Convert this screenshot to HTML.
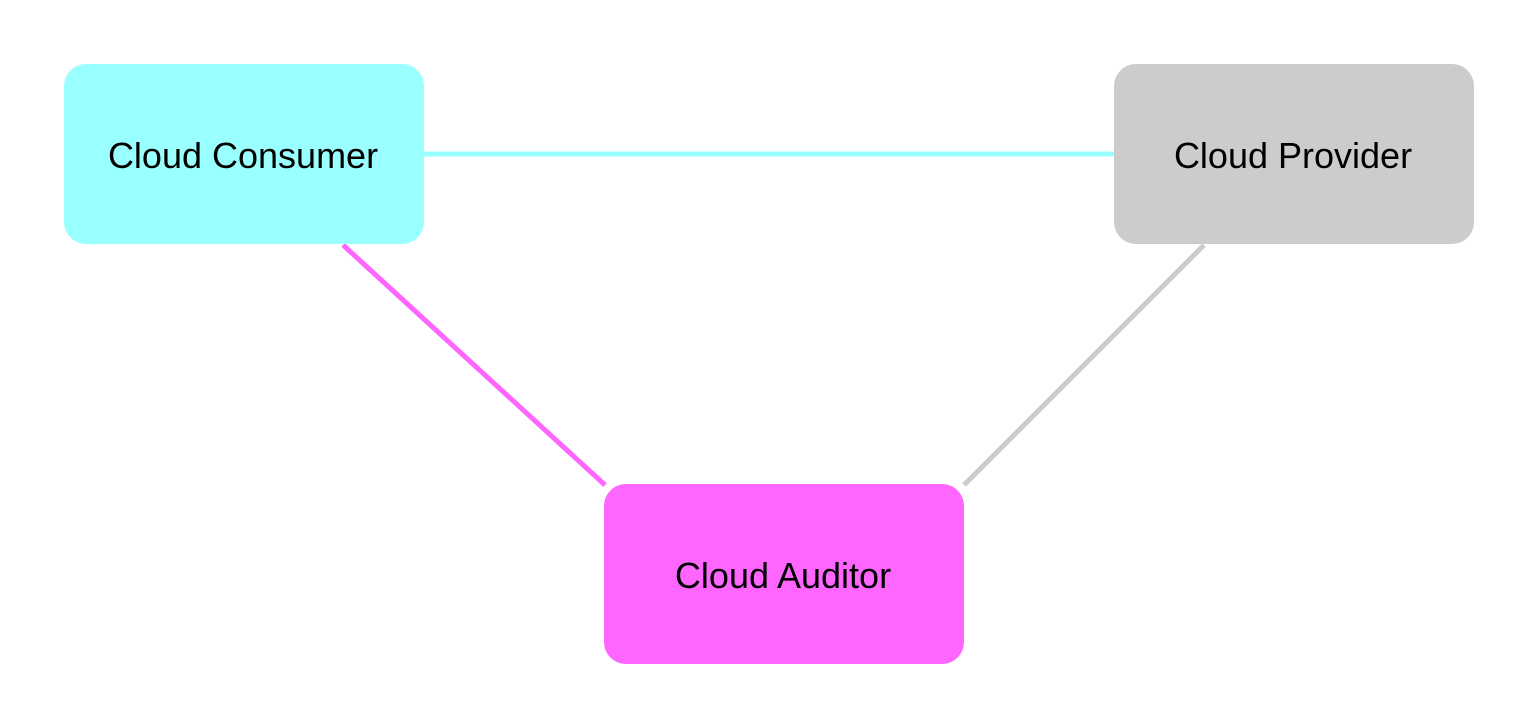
<!DOCTYPE html>
<html><head><style>html,body{margin:0;padding:0;background:#fff;width:1536px;height:726px;overflow:hidden}</style></head>
<body>
<svg width="1536" height="726" xmlns="http://www.w3.org/2000/svg">
<line x1="424" y1="154" x2="1115" y2="154" stroke="#99ffff" stroke-width="5"/>
<line x1="343" y1="245" x2="605" y2="485" stroke="#ff66ff" stroke-width="5"/>
<line x1="1204" y1="245" x2="964" y2="485" stroke="#cccccc" stroke-width="5"/>
<rect x="64" y="64" width="360" height="180" rx="22" fill="#99ffff"/>
<rect x="1114" y="64" width="360" height="180" rx="22" fill="#cccccc"/>
<rect x="604" y="484" width="360" height="180" rx="22" fill="#ff66ff"/>
<g font-family="Liberation Sans, Arial, sans-serif" font-size="36" text-anchor="middle" fill="#000">
<text x="243" y="168">Cloud Consumer</text>
<text x="1293" y="168">Cloud Provider</text>
<text x="783" y="588">Cloud Auditor</text>
</g>
</svg>
</body></html>
